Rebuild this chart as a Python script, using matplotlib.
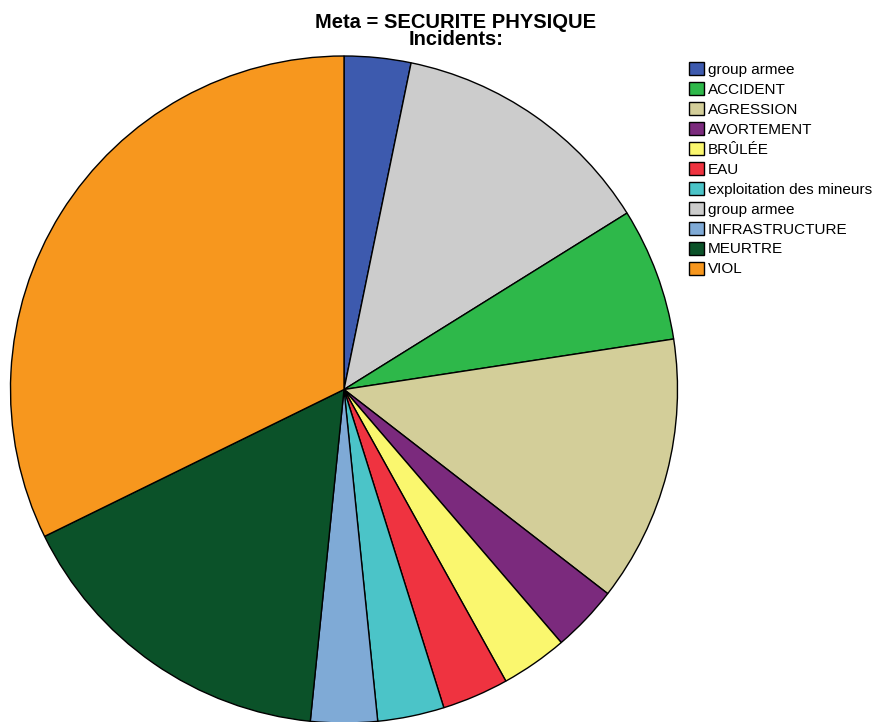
import matplotlib.pyplot as plt
from matplotlib.patches import Patch

# slices in the order they sit round the pie (clockwise from 12 o'clock)
pie_labels = ["group armee", "group armee ", "ACCIDENT", "AGRESSION", "AVORTEMENT", "BRÛLÉE",
              "EAU", "exploitation des mineurs", "INFRASTRUCTURE", "MEURTRE", "VIOL"]
pie_counts = [1, 4, 2, 4, 1, 1, 1, 1, 1, 5, 10]
pie_colors = ["#3D5AAE", "#CCCCCC", "#2EB84A", "#D3CE99", "#7B2A7D", "#FAF76E",
              "#EF3340", "#4BC4C8", "#7FAAD6", "#0B5229", "#F7971E"]

# legend order as printed in the chart
legend_order = [0, 2, 3, 4, 5, 6, 7, 1, 8, 9, 10]

plt.rcParams['font.family'] = ['Liberation Sans', 'DejaVu Sans']

fig = plt.figure(figsize=(8.81, 7.22), dpi=100)
ax = fig.add_axes([10.5 / 881, -1 / 722, 667 / 881, 667 / 722])

ax.pie(pie_counts, colors=pie_colors, startangle=90, counterclock=False, radius=1,
       wedgeprops=dict(edgecolor="black", linewidth=1.0))
ax.set_xlim(-1.0, 1.0)
ax.set_ylim(-1.0, 1.0)
ax.set_aspect("equal")
ax.axis("off")

fig.text(456 / 881, 1 - 31 / 722, "Meta = SECURITE PHYSIQUE\nIncidents:", ha="center", va="center",
         fontsize=14.5, fontweight="bold", linespacing=0.93)

handles = [Patch(facecolor=pie_colors[i], edgecolor="black", linewidth=1.0) for i in legend_order]
labels = [pie_labels[i].strip() for i in legend_order]
fig.legend(handles, labels, loc="upper left", bbox_to_anchor=(689 / 881, 1 - 62 / 722),
           frameon=False, fontsize=11, handlelength=0.95, handleheight=0.95,
           handletextpad=0.3, labelspacing=0.335, borderpad=0, borderaxespad=0)

fig.savefig("out.png", dpi=100)
